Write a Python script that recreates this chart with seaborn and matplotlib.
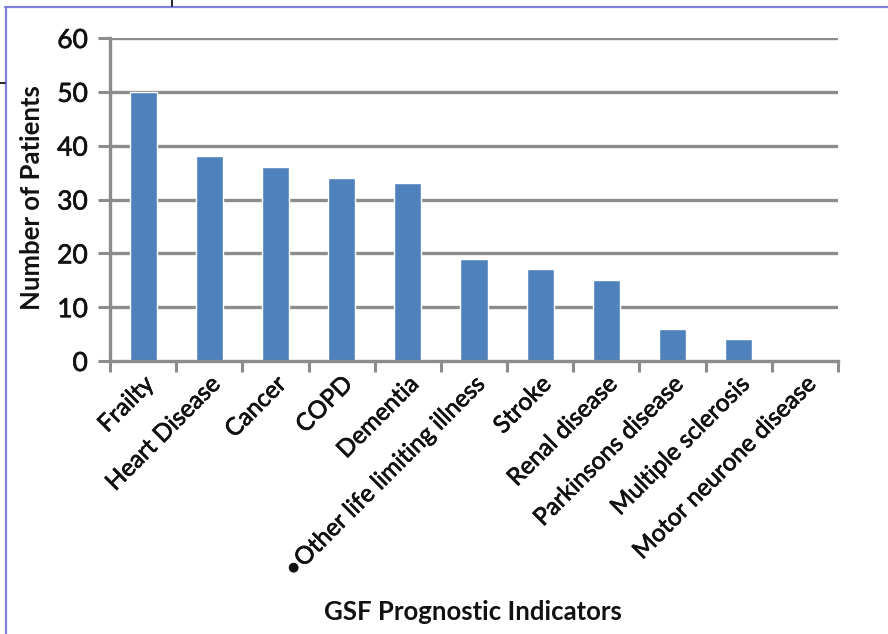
import matplotlib
matplotlib.use("Agg")
import matplotlib.pyplot as plt
import matplotlib.patheffects as pe
from matplotlib.lines import Line2D
from matplotlib.ticker import FixedLocator, NullFormatter
import seaborn as sns
import pandas as pd

categories = [
    "Frailty", "Heart Disease", "Cancer", "COPD", "Dementia",
    "\u2022Other life limiting illness", "Stroke", "Renal disease",
    "Parkinsons disease", "Multiple sclerosis", "Motor neurone disease",
]
patients = [50, 38, 36, 34, 33, 19, 17, 15, 6, 4, 0]
y_ticks = [0, 10, 20, 30, 40, 50, 60]

sns.set_style("white")
plt.rcParams["font.family"] = ["Lato", "DejaVu Sans"]

df = pd.DataFrame({"indicator": categories, "count": patients})

fig = plt.figure(figsize=(8.88, 6.34), dpi=100)
ax = fig.add_axes([110 / 888, 1 - 361 / 634, (838 - 110) / 888, (361 - 38) / 634])

grid_col = "#8c8c8c"
text_col = "#111111"
heavier = [pe.withStroke(linewidth=0.5, foreground=text_col)]

sns.barplot(data=df, x="indicator", y="count", color="#4f81bd",
            width=0.41, saturation=1, ax=ax, zorder=3)

ax.set_ylim(0, 60)
ax.set_xlim(-0.5, len(categories) - 0.5)
ax.set_yticks(y_ticks)
ax.set_yticklabels([str(v) for v in y_ticks], fontsize=19, color=text_col)
for v in y_ticks[1:]:
    ax.axhline(v, color=grid_col, lw=2.4, zorder=1)

# category labels at bar centres, tick marks at category boundaries
n = len(categories)
ax.xaxis.set_major_locator(FixedLocator([i - 0.5 for i in range(n + 1)]))
ax.xaxis.set_major_formatter(NullFormatter())
ax.xaxis.set_minor_locator(FixedLocator(list(range(n))))
ax.set_xticklabels(categories, minor=True, rotation=45, ha="right",
                   rotation_mode="anchor", fontsize=17.5, color=text_col)
ax.tick_params(axis="x", which="major", length=8, width=2.2, color=grid_col,
               direction="out", bottom=True)
ax.tick_params(axis="x", which="minor", length=0, pad=9, bottom=True)
ax.tick_params(axis="y", length=9, width=2.2, color=grid_col, pad=7, left=True)

for lbl in ax.get_xticklabels(minor=True) + ax.get_yticklabels():
    lbl.set_path_effects(heavier)

for side in ("top", "right"):
    ax.spines[side].set_visible(False)
for side in ("left", "bottom"):
    ax.spines[side].set_color(grid_col)
    ax.spines[side].set_linewidth(2.4)
    ax.spines[side].set_zorder(4)

ax.set_xlabel("GSF Prognostic Indicators", fontsize=18.5, fontweight="bold",
              color=text_col)
ax.xaxis.set_label_coords((473 - 110) / (838 - 110), -(612 - 361) / (361 - 38))
ax.set_ylabel("Number of Patients", fontsize=18.5, fontweight="bold",
              color=text_col)
ax.yaxis.set_label_coords(-(110 - 32) / (838 - 110), 0.5 - (198 - 199.5) / 323)
ax.xaxis.label.set_va("center")
ax.yaxis.label.set_va("center")

# outer frame and crop marks
W, H = 888, 634
frame = "#7f7fdc"
fig.add_artist(Line2D([5.5 / W, 5.5 / W], [1 - 7 / H, 0], color=frame, lw=1.6,
                      transform=fig.transFigure))
fig.add_artist(Line2D([5 / W, 1], [1 - 7 / H, 1 - 7 / H], color=frame, lw=1.6,
                      transform=fig.transFigure))
fig.add_artist(Line2D([172 / W, 172 / W], [1, 1 - 6 / H], color="black", lw=1.2,
                      transform=fig.transFigure))
fig.add_artist(Line2D([0, 5 / W], [1 - 83 / H, 1 - 83 / H], color="black", lw=1.2,
                      transform=fig.transFigure))

fig.savefig("out.png", dpi=100, facecolor="white")
